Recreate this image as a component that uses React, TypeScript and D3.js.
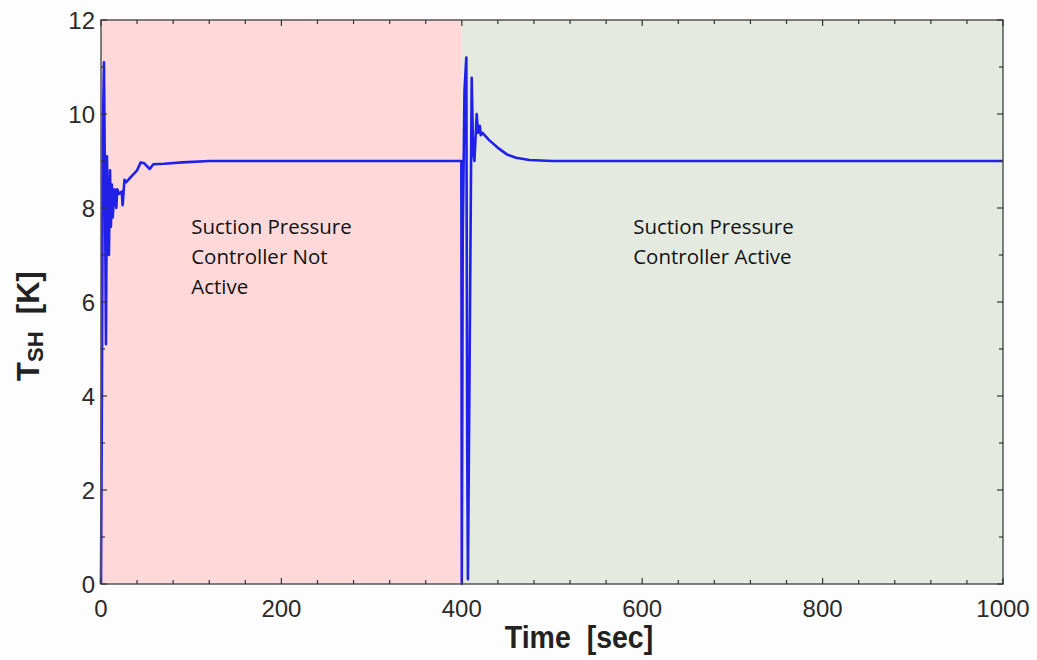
import * as d3 from "d3";

// time [s], superheat [K]
const timeA = [0, 1, 2, 3.3, 4.5, 5.5, 6.6, 7.5, 8.8, 10, 11, 12, 13, 15, 17, 18, 20, 23, 24, 26, 28, 35, 40, 44, 48, 54, 58, 70, 90, 120, 200, 300, 399.5];
const tempA = [0, 4, 9.5, 11.1, 8.2, 5.1, 9.1, 8.0, 7.0, 8.8, 7.6, 8.5, 7.8, 8.4, 8.0, 8.4, 8.3, 8.35, 8.06, 8.6, 8.55, 8.7, 8.8, 8.97, 8.95, 8.83, 8.93, 8.94, 8.97, 9.0, 9.0, 9.0, 9.0];
const timeB = [400, 401, 403, 405, 406, 406.8, 408.5, 411, 412.5, 414, 416.5, 418, 420, 421, 423, 430, 440, 450, 460, 475, 500, 600, 800, 1000];
const tempB = [0, 7.3, 10.5, 11.2, 3.0, 0.1, 4.3, 10.77, 9.2, 9.0, 10.0, 9.6, 9.75, 9.55, 9.6, 9.45, 9.28, 9.14, 9.07, 9.02, 9.0, 9.0, 9.0, 9.0];
const xTicks = [0, 200, 400, 600, 800, 1000];
const yTicks = [0, 2, 4, 6, 8, 10, 12];
const xMinor = d3.range(0, 1001, 40);
const yMinor = d3.range(0, 13, 1);
const regions = [
  { from: 0, to: 400, color: "#ffd9da", lines: ["Suction Pressure", "Controller Not", "Active"], labelAt: 100 },
  { from: 400, to: 1000, color: "#e5eae0", lines: ["Suction Pressure", "Controller Active"], labelAt: 590 },
];

const W = 1037;
const H = 660;
const m = { left: 101, right: 34, top: 20, bottom: 76 };

export default function App() {
  const x = d3.scaleLinear().domain([0, 1000]).range([m.left, W - m.right]);
  const y = d3.scaleLinear().domain([0, 12]).range([H - m.bottom, m.top]);

  const ptsA = timeA.map((t, i) => [x(t), y(tempA[i])] as [number, number]);
  const ptsB = timeB.map((t, i) => [x(t), y(tempB[i])] as [number, number]);
  const path = d3.line();
  const all = ptsA.concat(ptsB);

  const x0 = x(0), x1 = x(1000), y0 = y(0), y1 = y(12);
  const tickFont = "'Liberation Sans', Arial, sans-serif";

  return (
    <div style={{ position: "absolute", left: 0, top: 0 }}>
      <svg width={W} height={H} style={{ display: "block", background: "#fdfdfd" }}>
        {regions.map((r) => (
          <rect key={r.from} x={x(r.from)} y={y1} width={x(r.to) - x(r.from)} height={y0 - y1} fill={r.color} />
        ))}
        <path d={path(all) ?? ""} fill="none" stroke="#2020e8" strokeWidth={2.6} strokeLinejoin="round" />
        <rect x={x0} y={y1} width={x1 - x0} height={y0 - y1} fill="none" stroke="#555" strokeWidth={1.5} />
        {/* inward ticks on all four sides */}
        {xMinor.map((t) => {
          const len = t % 200 === 0 ? 6 : 4;
          return (
            <g key={"x" + t} stroke="#333" strokeWidth={1.2}>
              <line x1={x(t)} x2={x(t)} y1={y0} y2={y0 - len} />
              <line x1={x(t)} x2={x(t)} y1={y1} y2={y1 + len} />
            </g>
          );
        })}
        {yMinor.map((v) => {
          const len = v % 2 === 0 ? 6 : 4;
          return (
            <g key={"y" + v} stroke="#333" strokeWidth={1.2}>
              <line x1={x0} x2={x0 + len} y1={y(v)} y2={y(v)} />
              <line x1={x1} x2={x1 - len} y1={y(v)} y2={y(v)} />
            </g>
          );
        })}
        {xTicks.map((t) => (
          <text key={"xl" + t} x={x(t)} y={y0 + 33} textAnchor="middle" fontFamily={tickFont} fontSize={24} fill="#2a2a2a">
            {t}
          </text>
        ))}
        {yTicks.map((v) => (
          <text key={"yl" + v} x={x0 - 6} y={y(v) + 9} textAnchor="end" fontFamily={tickFont} fontSize={24} fill="#2a2a2a">
            {v}
          </text>
        ))}
        <text x={579} y={648} textAnchor="middle" fontFamily={tickFont} fontWeight="bold" fontSize={31} fill="#222"
          transform="translate(579,0) scale(0.92,1) translate(-579,0)">
          {"Time\u00a0\u00a0[sec]"}
        </text>
        <text transform="translate(39,326) rotate(-90)" textAnchor="middle" fontFamily={tickFont} fontWeight="bold" fill="#222">
          <tspan fontSize={31}>T</tspan>
          <tspan fontSize={22} dy={4}>SH</tspan>
          <tspan fontSize={31} dy={-4}>{"\u00a0\u00a0[K]"}</tspan>
        </text>
        {regions.map((r) => (
          <text key={"lab" + r.from} fontFamily="'Open Sans', Lato, sans-serif" fontSize={20.5} fill="#111">
            {r.lines.map((s, i) => (
              <tspan key={i} x={x(r.labelAt)} y={234 + i * 30}>
                {s}
              </tspan>
            ))}
          </text>
        ))}
      </svg>
    </div>
  );
}
